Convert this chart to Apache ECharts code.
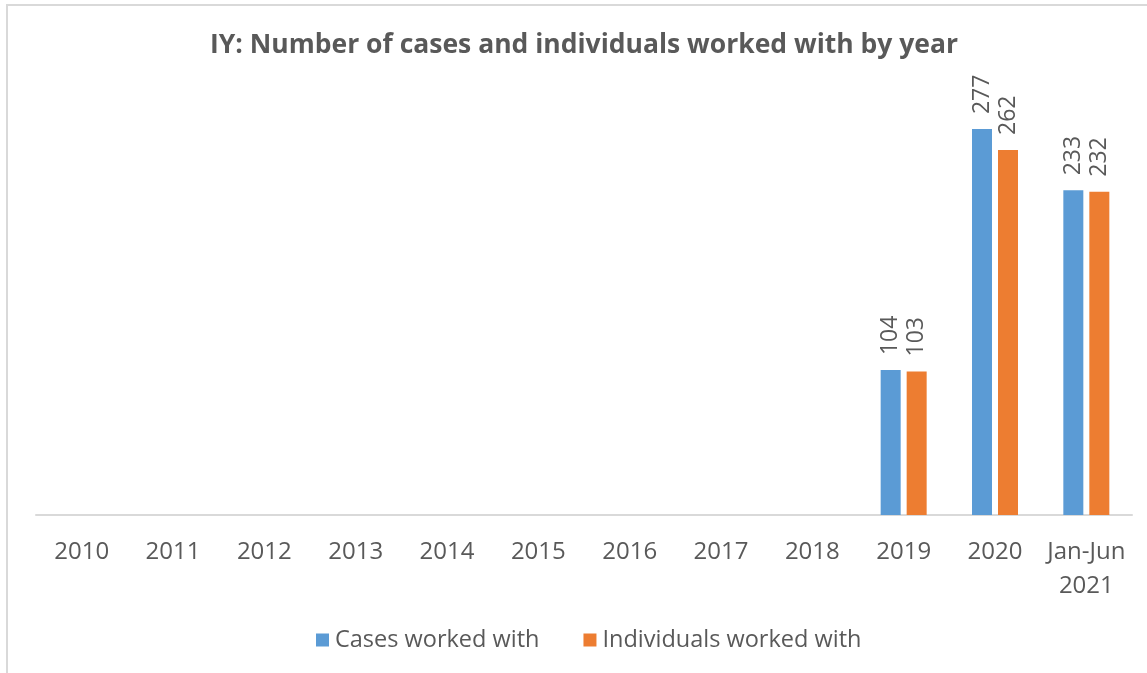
<!DOCTYPE html>
<html>
<head>
<meta charset="utf-8">
<script src="https://cdn.jsdelivr.net/npm/echarts@6/dist/echarts.min.js"></script>
<style>
  html, body { margin: 0; padding: 0; background: #fff; }
  #frame {
    position: absolute; left: 6px; top: 4px; width: 1160px; height: 700px;
    border-top: 2px solid #d9d9d9; border-left: 2px solid #d9d9d9;
  }
  #main { position: absolute; left: 0; top: 0; width: 1147px; height: 673px; }
</style>
</head>
<body>
<div id="frame"></div>
<div id="main"></div>
<script>
// categories + values
var years = ['2010', '2011', '2012', '2013', '2014', '2015', '2016', '2017', '2018', '2019', '2020', 'Jan-Jun\n2021']
var casesWorked = [null, null, null, null, null, null, null, null, null, 104, 277, 233]
var individualsWorked = [null, null, null, null, null, null, null, null, null, 103, 262, 232]

var textColor = '#595959'
var font = 'Open Sans'

var myChart = echarts.init(document.getElementById('main'))

var barLabel = {
  show: true,
  position: 'top',
  rotate: 90,
  align: 'left',
  verticalAlign: 'middle',
  distance: 15,
  color: textColor,
  fontFamily: font,
  fontSize: 23
}

var option = {
  animation: false,
  title: {
    text: 'IY: Number of cases and individuals worked with by year',
    left: 205,
    top: 27,
    textStyle: { color: textColor, fontFamily: font, fontSize: 26.5, fontWeight: 'bold' }
  },
  legend: {
    bottom: 16,
    left: 311,
    itemWidth: 13,
    itemHeight: 13,
    itemGap: 44,
    icon: 'rect',
    textStyle: { color: textColor, fontFamily: font, fontSize: 23.5, padding: [0, 0, 0, 1] },
    data: ['Cases worked with', 'Individuals worked with']
  },
  grid: { left: 36, right: 15, top: 97, bottom: 158 },
  xAxis: {
    type: 'category',
    data: years,
    axisLine: { lineStyle: { color: '#d9d9d9', width: 2 } },
    axisTick: { show: false },
    axisLabel: { color: textColor, fontFamily: font, fontSize: 24, margin: 20, lineHeight: 34, interval: 0 }
  },
  yAxis: {
    type: 'value',
    min: 0,
    max: 300,
    show: false,
    splitLine: { show: false }
  },
  series: [
    {
      name: 'Cases worked with',
      type: 'bar',
      barWidth: 20,
      barGap: '30%',
      itemStyle: { color: '#5b9bd5' },
      label: barLabel,
      data: casesWorked
    },
    {
      name: 'Individuals worked with',
      type: 'bar',
      barWidth: 20,
      itemStyle: { color: '#ed7d31' },
      label: barLabel,
      data: individualsWorked
    }
  ]
}

myChart.setOption(option)
</script>
</body>
</html>
